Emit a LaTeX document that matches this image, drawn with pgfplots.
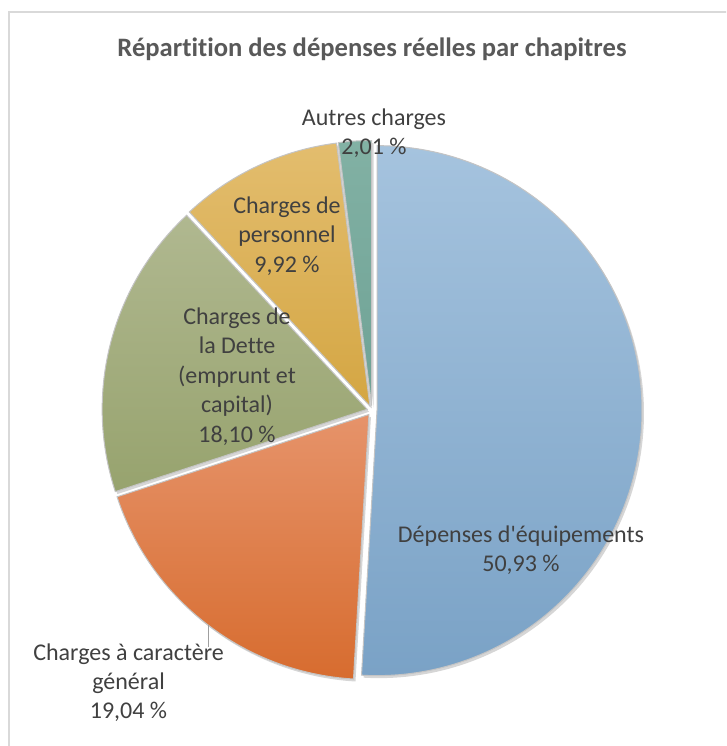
\documentclass[border=0pt]{standalone}
\usepackage{pgfplots}
\pgfplotsset{compat=1.18}
\usepackage{fontspec}
\setmainfont{Carlito}[Ligatures={TeX,NoCommon}]
\definecolor{blueT}{HTML}{A5C3DE}
\definecolor{blueB}{HTML}{7AA2C6}
\definecolor{orangeT}{HTML}{E6936A}
\definecolor{orangeB}{HTML}{D76C2F}
\definecolor{greenT}{HTML}{B0B890}
\definecolor{greenB}{HTML}{97A36E}
\definecolor{yellowT}{HTML}{E3BD6E}
\definecolor{yellowB}{HTML}{D4A643}
\definecolor{tealT}{HTML}{82B1A4}
\definecolor{tealB}{HTML}{6EA295}
\definecolor{txt}{HTML}{404040}
\definecolor{ttl}{HTML}{595959}
\definecolor{frameC}{HTML}{D9D9D9}
\definecolor{edgeC}{HTML}{C4C4C4}
\begin{document}
\begin{tikzpicture}
% shares (%)
\def\pA{50.93}% Dépenses d'équipements
\def\pB{19.04}% Charges à caractère général
\def\pC{18.10}% Charges de la Dette
\def\pD{9.92}%  Charges de personnel
\def\pE{2.01}%  Autres charges
\def\cx{372}\def\cy{410.5}\def\R{265}\def\ex{5}
\pgfmathsetmacro\sA{90}
\pgfmathsetmacro\eA{\sA-3.6*\pA}
\pgfmathsetmacro\eB{\eA-3.6*\pB}
\pgfmathsetmacro\eC{\eB-3.6*\pC}
\pgfmathsetmacro\eD{\eC-3.6*\pD}
\pgfmathsetmacro\eE{\eD-3.6*\pE}
\pgfmathsetmacro\oxA{\cx+\ex*cos((\sA+\eA)/2)}\pgfmathsetmacro\oyA{\cy-\ex*sin((\sA+\eA)/2)}
\pgfmathsetmacro\oxB{\cx+\ex*cos((\eA+\eB)/2)}\pgfmathsetmacro\oyB{\cy-\ex*sin((\eA+\eB)/2)}
\pgfmathsetmacro\oxC{\cx+\ex*cos((\eB+\eC)/2)}\pgfmathsetmacro\oyC{\cy-\ex*sin((\eB+\eC)/2)}
\pgfmathsetmacro\oxD{\cx+\ex*cos((\eC+\eD)/2)}\pgfmathsetmacro\oyD{\cy-\ex*sin((\eC+\eD)/2)}
\pgfmathsetmacro\oxE{\cx+\ex*cos((\eD+\eE)/2)}\pgfmathsetmacro\oyE{\cy-\ex*sin((\eD+\eE)/2)}
\begin{axis}[hide axis, scale only axis, width=726pt, height=746pt,
  xmin=0, xmax=726, ymin=0, ymax=746, y dir=reverse, clip=true]
\path (0,0) rectangle (726,746);
\pgfplotsset{slice/.style={draw=edgeC, line width=1pt, samples=120},
  shadow/.style={draw=none, fill=black, opacity=0.16, samples=120}}
% soft shadows
\addplot[shadow, domain=\eA:\sA] ({\oxA+2+\R*cos(x)},{\oyA+2.5-\R*sin(x)}) -- (\oxA+2,\oyA+2.5) -- cycle;
\addplot[shadow, domain=\eB:\eA] ({\oxB+2+\R*cos(x)},{\oyB+2.5-\R*sin(x)}) -- (\oxB+2,\oyB+2.5) -- cycle;
\addplot[shadow, domain=\eC:\eB] ({\oxC+2+\R*cos(x)},{\oyC+2.5-\R*sin(x)}) -- (\oxC+2,\oyC+2.5) -- cycle;
\addplot[shadow, domain=\eD:\eC] ({\oxD+2+\R*cos(x)},{\oyD+2.5-\R*sin(x)}) -- (\oxD+2,\oyD+2.5) -- cycle;
\addplot[shadow, domain=\eE:\eD] ({\oxE+2+\R*cos(x)},{\oyE+2.5-\R*sin(x)}) -- (\oxE+2,\oyE+2.5) -- cycle;
% slices
\addplot[slice, top color=blueT, bottom color=blueB, domain=\eA:\sA]
  ({\oxA+\R*cos(x)},{\oyA-\R*sin(x)}) -- (\oxA,\oyA) -- cycle;
\addplot[slice, top color=orangeT, bottom color=orangeB, domain=\eB:\eA]
  ({\oxB+\R*cos(x)},{\oyB-\R*sin(x)}) -- (\oxB,\oyB) -- cycle;
\addplot[slice, top color=greenT, bottom color=greenB, domain=\eC:\eB]
  ({\oxC+\R*cos(x)},{\oyC-\R*sin(x)}) -- (\oxC,\oyC) -- cycle;
\addplot[slice, top color=yellowT, bottom color=yellowB, domain=\eD:\eC]
  ({\oxD+\R*cos(x)},{\oyD-\R*sin(x)}) -- (\oxD,\oyD) -- cycle;
\addplot[slice, top color=tealT, bottom color=tealB, domain=\eE:\eD]
  ({\oxE+\R*cos(x)},{\oyE-\R*sin(x)}) -- (\oxE,\oyE) -- cycle;
% frame
\draw[frameC, line width=1.5pt] (9,760) -- (9,12) -- (740,12);
% leader line
\draw[gray!75, line width=0.9pt] (208,625) -- (208,647);
% title
\node[text=ttl, anchor=base, font=\fontsize{26.6}{32}\selectfont\bfseries] at (372,57) {Répartition des dépenses réelles par chapitres};
% labels (one node per line, at its baseline)
\begin{scope}[every node/.style={text=txt, anchor=base, inner sep=0pt, font=\fontsize{24}{29}\selectfont}]
\node at (374,126) {Autres charges};
\node at (374,155) {2,01 \%};
\node at (287,213) {Charges de};
\node at (287,242.5) {personnel};
\node at (287,272) {9,92 \%};
\node at (237,324) {Charges de};
\node at (237,353.5) {la Dette};
\node at (237,383) {(emprunt et};
\node at (237,412.5) {capital)};
\node at (237,442) {18,10 \%};
\node at (521,542) {Dépenses d\textquotesingle équipements};
\node at (521,571) {50,93 \%};
\node at (128.5,660) {Charges à caractère};
\node at (128.5,689.5) {général};
\node at (128.5,718) {19,04 \%};
\end{scope}
\end{axis}
\end{tikzpicture}
\end{document}
